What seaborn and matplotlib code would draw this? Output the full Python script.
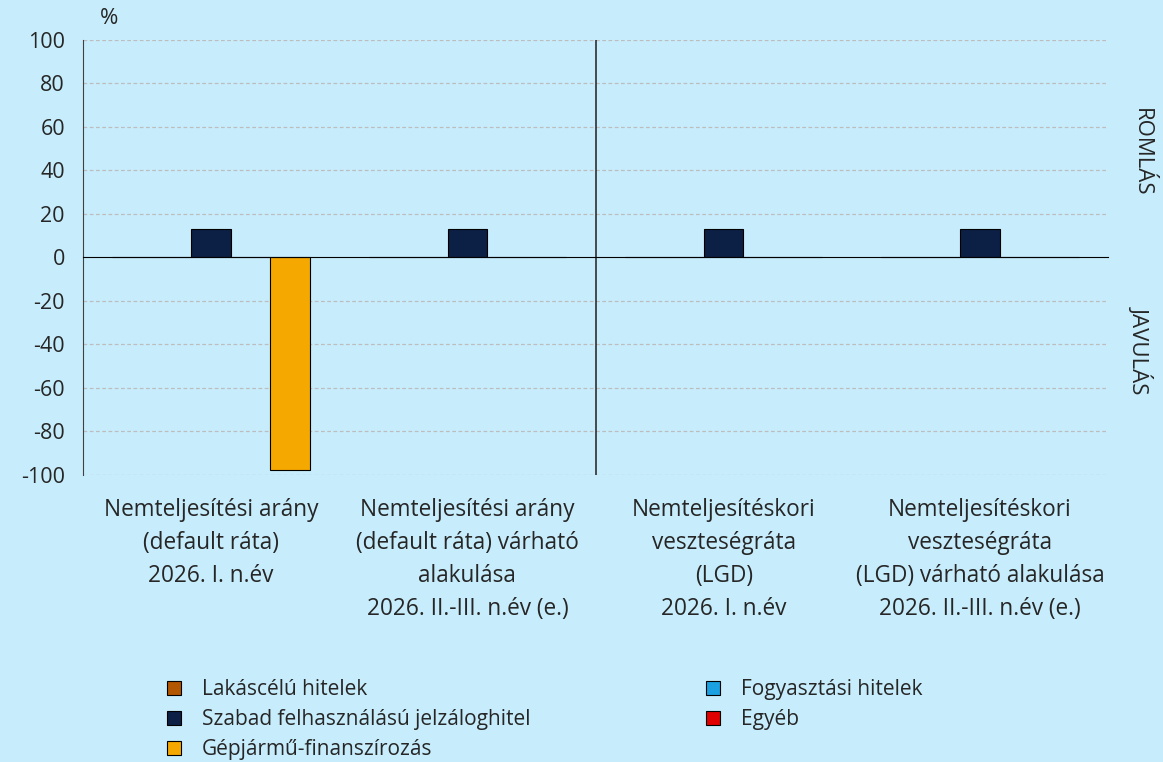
import pandas as pd
import matplotlib
matplotlib.use("Agg")
import matplotlib.pyplot as plt
import matplotlib.transforms as mtransforms
from matplotlib.patches import Patch
import seaborn as sns

# chart data
categories = [
    ["Nemteljesítési arány", "(default ráta)", "2026. I. n.év"],
    ["Nemteljesítési arány", "(default ráta) várható", "alakulása", "2026. II.-III. n.év (e.)"],
    ["Nemteljesítéskori", "veszteségráta", "(LGD)", "2026. I. n.év"],
    ["Nemteljesítéskori", "veszteségráta", "(LGD) várható alakulása", "2026. II.-III. n.év (e.)"],
]
series_names = [
    "Lakáscélú hitelek",
    "Szabad felhasználású jelzáloghitel",
    "Gépjármű-finanszírozás",
    "Fogyasztási hitelek",
    "Egyéb",
]
lakas = [0, 0, 0, 0]
szabad = [13, 13, 13, 13]
gepjarmu = [-98, 0, 0, 0]
fogyasztasi = [0, 0, 0, 0]
egyeb = [0, 0, 0, 0]
yticks = [-100, -80, -60, -40, -20, 0, 20, 40, 60, 80, 100]

colors = {
    "Lakáscélú hitelek": "#B35600",
    "Szabad felhasználású jelzáloghitel": "#0C1F45",
    "Gépjármű-finanszírozás": "#F5A800",
    "Fogyasztási hitelek": "#1BA0E2",
    "Egyéb": "#E00000",
}
# slot order of the bars inside a group
bar_order = [
    "Lakáscélú hitelek",
    "Fogyasztási hitelek",
    "Szabad felhasználású jelzáloghitel",
    "Egyéb",
    "Gépjármű-finanszírozás",
]

values = dict(zip(series_names, [lakas, szabad, gepjarmu, fogyasztasi, egyeb]))
rows = []
for name in series_names:
    for i in range(len(categories)):
        rows.append({"cat": i, "series": name, "value": values[name][i]})
df = pd.DataFrame(rows)

bg = "#C7EDFC"
sns.set_style("white")
plt.rcParams["font.family"] = ["Open Sans", "DejaVu Sans"]
plt.rcParams["axes.unicode_minus"] = False

fig = plt.figure(figsize=(11.63, 7.62), dpi=100, facecolor=bg)
ax = fig.add_axes([83 / 1163, 1 - 474.6 / 762, (1108 - 83) / 1163, (474.6 - 40) / 762])
ax.set_facecolor(bg)

sns.barplot(data=df, x="cat", y="value", hue="series", hue_order=bar_order,
            palette=colors, saturation=1, width=0.77, edgecolor="black",
            linewidth=0.8, legend=False, ax=ax, zorder=3)

ax.set_xlim(-0.5, 3.5)
ax.set_ylim(-100, 100)
ax.set_yticks(yticks)
ax.set_yticklabels([str(v) for v in yticks], fontsize=15.5)
ax.tick_params(axis="y", direction="out", length=8, width=1, color="#404040", pad=5)

# dashed gridlines
for v in yticks:
    if v != 0:
        ax.axhline(v, color="#BDBDBD", lw=0.9, ls=(0, (3, 2)), zorder=1)

# x axis sits on zero
for s in ["top", "right"]:
    ax.spines[s].set_visible(False)
ax.spines["left"].set_color("#404040")
ax.spines["bottom"].set_position(("data", 0))
ax.spines["bottom"].set_color("black")
ax.spines["bottom"].set_zorder(4)
ax.set_xticks([0.5, 1.5, 2.5, 3.5])
ax.set_xticklabels([])
ax.tick_params(axis="x", direction="out", length=7, width=1, color="#202020")
ax.set_xlabel("")
ax.set_ylabel("")

# separator line
ax.axvline(1.5, color="#202020", lw=1.1, zorder=4)

# category labels, one line at a time
trans = mtransforms.blended_transform_factory(ax.transData, fig.transFigure)
for i, lines in enumerate(categories):
    for j, line in enumerate(lines):
        ax.text(i, 1 - (516 + 33 * j) / 762, line, transform=trans,
                ha="center", va="baseline", fontsize=16.3)

fig.text(100 / 1163, 1 - 19 / 762, "%", fontsize=16, va="center", ha="left")
fig.text(1141 / 1163, 1 - 152 / 762, "ROMLÁS", rotation=-90, fontsize=16,
         ha="center", va="center")
fig.text(1141 / 1163, 1 - 350 / 762, "JAVULÁS", rotation=-90, fontsize=16,
         ha="center", va="center")

handles = [Patch(facecolor=colors[n], edgecolor="black", linewidth=0.8, label=n)
           for n in series_names]
leg_kw = dict(loc="upper left", frameon=False, fontsize=15, handlelength=0.67,
              handleheight=0.67, handletextpad=1.0, labelspacing=0.43,
              borderpad=0, borderaxespad=0)
fig.legend(handles=handles[:3], bbox_to_anchor=(167 / 1163, 1 - 679 / 762), **leg_kw)
fig.legend(handles=handles[3:], bbox_to_anchor=(706 / 1163, 1 - 679 / 762), **leg_kw)

fig.savefig("out.png", dpi=100, facecolor=bg)
